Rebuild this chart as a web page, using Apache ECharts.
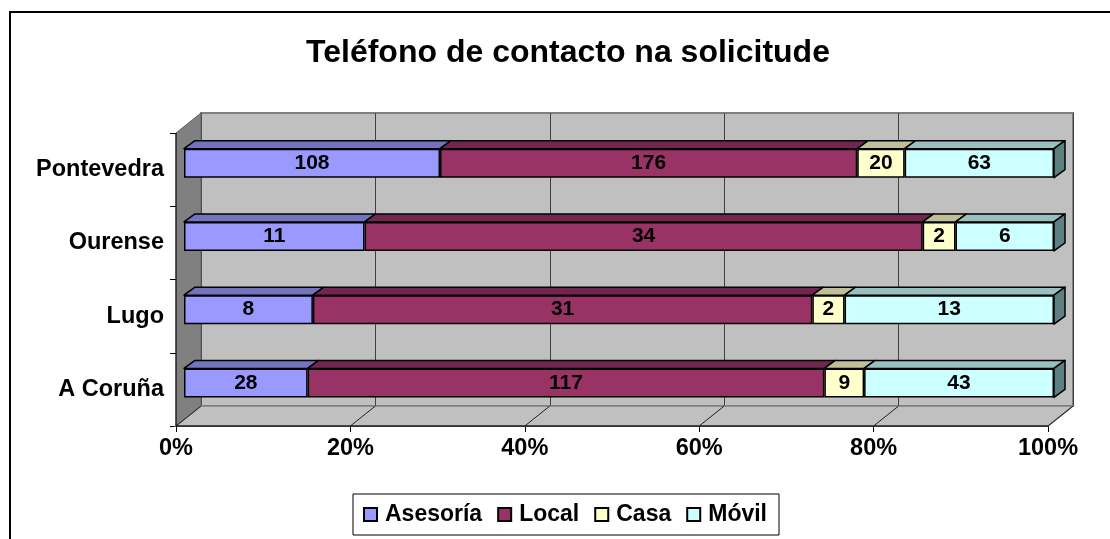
<!DOCTYPE html>
<html>
<head>
<meta charset="utf-8">
<script src="https://cdn.jsdelivr.net/npm/echarts@6/dist/echarts.min.js"></script>
<style>
html,body{margin:0;padding:0;background:#fff;}
#chart{width:1110px;height:539px;}
</style>
</head>
<body>
<div id="chart"></div>
<script>
// ---- data ----
const categories = ['A Coruña', 'Lugo', 'Ourense', 'Pontevedra'];
const seriesNames = ['Asesoría', 'Local', 'Casa', 'Móvil'];
const asesoria = [28, 8, 11, 108];
const local = [117, 31, 34, 176];
const casa = [9, 2, 2, 20];
const movil = [43, 13, 6, 63];
const xTicks = [0, 20, 40, 60, 80, 100];

// ---- styles / layout ----
const FONT = 'Liberation Sans, Arial, sans-serif';
const colors = ['#9999ff', '#993366', '#ffffcc', '#ccffff'];
const topColors = ['#7373bf', '#732650', '#bfbf99', '#99bfbf'];
const sideColor = '#5f8080';
const PLOT = {left: 176, top: 133, width: 872, height: 293};
const DEPTH = {dx: 25, dy: -20};
const BAR_OFF = {dx: 8, dy: -6.5};
const BAR_DEPTH = {dx: 11, dy: -8};
const BAR_W = 29;

const raw = [asesoria, local, casa, movil];
const totals = categories.map((c, i) => raw.reduce((s, a) => s + a[i], 0));
const pct = raw.map(a => a.map((v, i) => v / totals[i] * 100));

const chart = echarts.init(document.getElementById('chart'), null, {renderer: 'canvas'});

const barSeries = seriesNames.map((name, s) => ({
  name: name,
  type: 'bar',
  stack: 'total',
  xAxisIndex: 2,
  yAxisIndex: 2,
  barWidth: BAR_W,
  z: 4,
  data: pct[s],
  itemStyle: {color: colors[s], borderColor: '#000', borderWidth: 1.5},
  label: {
    show: true,
    position: 'inside',
    color: '#000',
    fontFamily: FONT,
    fontWeight: 'bold',
    fontSize: 21,
    formatter: p => String(raw[s][p.dataIndex])
  },
  emphasis: {disabled: true}
}));

const option = {
  animation: false,
  backgroundColor: '#fff',
  title: {
    text: 'Teléfono de contacto na solicitude',
    left: 563,
    textAlign: 'center',
    top: 32,
    textStyle: {fontFamily: FONT, fontWeight: 'bold', fontSize: 32, color: '#000'}
  },
  legend: {
    data: seriesNames,
    left: 353,
    top: 494,
    orient: 'horizontal',
    icon: 'rect',
    itemWidth: 13,
    itemHeight: 13,
    itemGap: 15,
    padding: [9, 12, 9, 10],
    borderColor: '#000',
    borderWidth: 1,
    backgroundColor: '#fff',
    textStyle: {fontFamily: FONT, fontWeight: 'bold', fontSize: 23, color: '#000', padding: [0, 0, 0, 3]}
  },
  graphic: [{
    type: 'rect',
    shape: {x: 10, y: 12, width: 1200, height: 600},
    style: {fill: 'none', stroke: '#000', lineWidth: 2},
    silent: true,
    z: 100
  }],
  grid: [
    // back wall
    {left: PLOT.left + DEPTH.dx, top: PLOT.top + DEPTH.dy, width: PLOT.width, height: PLOT.height,
     show: true, backgroundColor: '#c0c0c0', borderColor: '#808080', borderWidth: 2},
    // front axis plane
    {left: PLOT.left, top: PLOT.top, width: PLOT.width, height: PLOT.height},
    // bar front faces
    {left: PLOT.left + BAR_OFF.dx, top: PLOT.top + BAR_OFF.dy, width: PLOT.width - 2, height: PLOT.height}
  ],
  xAxis: [
    {gridIndex: 0, type: 'value', min: 0, max: 100, interval: 20,
     axisLine: {show: false}, axisTick: {show: false}, axisLabel: {show: false},
     splitLine: {show: true, lineStyle: {color: '#404040', width: 1}}},
    {gridIndex: 1, type: 'value', min: 0, max: 100, interval: 20,
     axisLine: {show: true, lineStyle: {color: '#000', width: 1}},
     axisTick: {show: true, length: 6, lineStyle: {color: '#000'}},
     splitLine: {show: false},
     axisLabel: {formatter: '{value}%', fontFamily: FONT, fontWeight: 'bold', fontSize: 23.5, color: '#000', margin: 11}},
    {gridIndex: 2, type: 'value', min: 0, max: 100, show: false}
  ],
  yAxis: [
    {gridIndex: 0, type: 'category', data: categories, show: false},
    {gridIndex: 1, type: 'category', data: categories,
     axisLine: {show: true, lineStyle: {color: '#000', width: 1}},
     axisTick: {show: true, length: 6, lineStyle: {color: '#000'}},
     axisLabel: {fontFamily: FONT, fontWeight: 'bold', fontSize: 23.5, color: '#000', margin: 12}},
    {gridIndex: 2, type: 'category', data: categories, show: false}
  ],
  series: [
    // left wall and floor, derived from the front plane grid
    {
      type: 'custom',
      xAxisIndex: 1, yAxisIndex: 1,
      z: 1,
      silent: true,
      data: [[0, 0]],
      renderItem: function (params, api) {
        const cs = params.coordSys;
        const x0 = cs.x, y0 = cs.y, x1 = cs.x + cs.width, y1 = cs.y + cs.height;
        const dx = DEPTH.dx, dy = DEPTH.dy;
        const children = [
          {type: 'polygon', shape: {points: [[x0, y0], [x0 + dx, y0 + dy], [x0 + dx, y1 + dy], [x0, y1]]},
           style: {fill: '#808080', stroke: '#606060', lineWidth: 1}},
          {type: 'polygon', shape: {points: [[x0, y1], [x1, y1], [x1 + dx, y1 + dy], [x0 + dx, y1 + dy]]},
           style: {fill: '#c0c0c0', stroke: '#808080', lineWidth: 1.5}}
        ];
        xTicks.forEach(t => {
          const px = api.coord([t, 0])[0];
          children.push({type: 'line', shape: {x1: px, y1: y1, x2: px + dx, y2: y1 + dy},
            style: {stroke: '#202020', lineWidth: 1}});
        });
        children.push({type: 'line', shape: {x1: x0, y1: y1, x2: x1, y2: y1}, style: {stroke: '#000', lineWidth: 1}});
        children.push({type: 'line', shape: {x1: x0, y1: y0, x2: x0, y2: y1}, style: {stroke: '#000', lineWidth: 1}});
        return {type: 'group', children: children};
      }
    },
    // 3D top and side faces of the bars
    {
      type: 'custom',
      xAxisIndex: 2, yAxisIndex: 2,
      z: 3,
      silent: true,
      encode: {x: 0, y: 1},
      data: categories.map((c, i) => [100, i]),
      renderItem: function (params, api) {
        const i = api.value(1);
        const yc = api.coord([0, i])[1];
        const yT = yc - BAR_W / 2, yB = yc + BAR_W / 2;
        const dx = BAR_DEPTH.dx, dy = BAR_DEPTH.dy;
        const children = [];
        let cum = 0;
        let lastX = 0;
        for (let s = 0; s < raw.length; s++) {
          const xa = api.coord([cum, i])[0];
          cum += pct[s][i];
          const xb = api.coord([cum, i])[0];
          children.push({type: 'polygon',
            shape: {points: [[xa, yT], [xb, yT], [xb + dx, yT + dy], [xa + dx, yT + dy]]},
            style: {fill: topColors[s], stroke: '#000', lineWidth: 1.5, lineJoin: 'round'}});
          lastX = xb;
        }
        children.push({type: 'polygon',
          shape: {points: [[lastX, yT], [lastX + dx, yT + dy], [lastX + dx, yB + dy], [lastX, yB]]},
          style: {fill: sideColor, stroke: '#000', lineWidth: 1.5, lineJoin: 'round'}});
        return {type: 'group', children: children};
      }
    }
  ].concat(barSeries)
};

chart.setOption(option);
</script>
</body>
</html>
